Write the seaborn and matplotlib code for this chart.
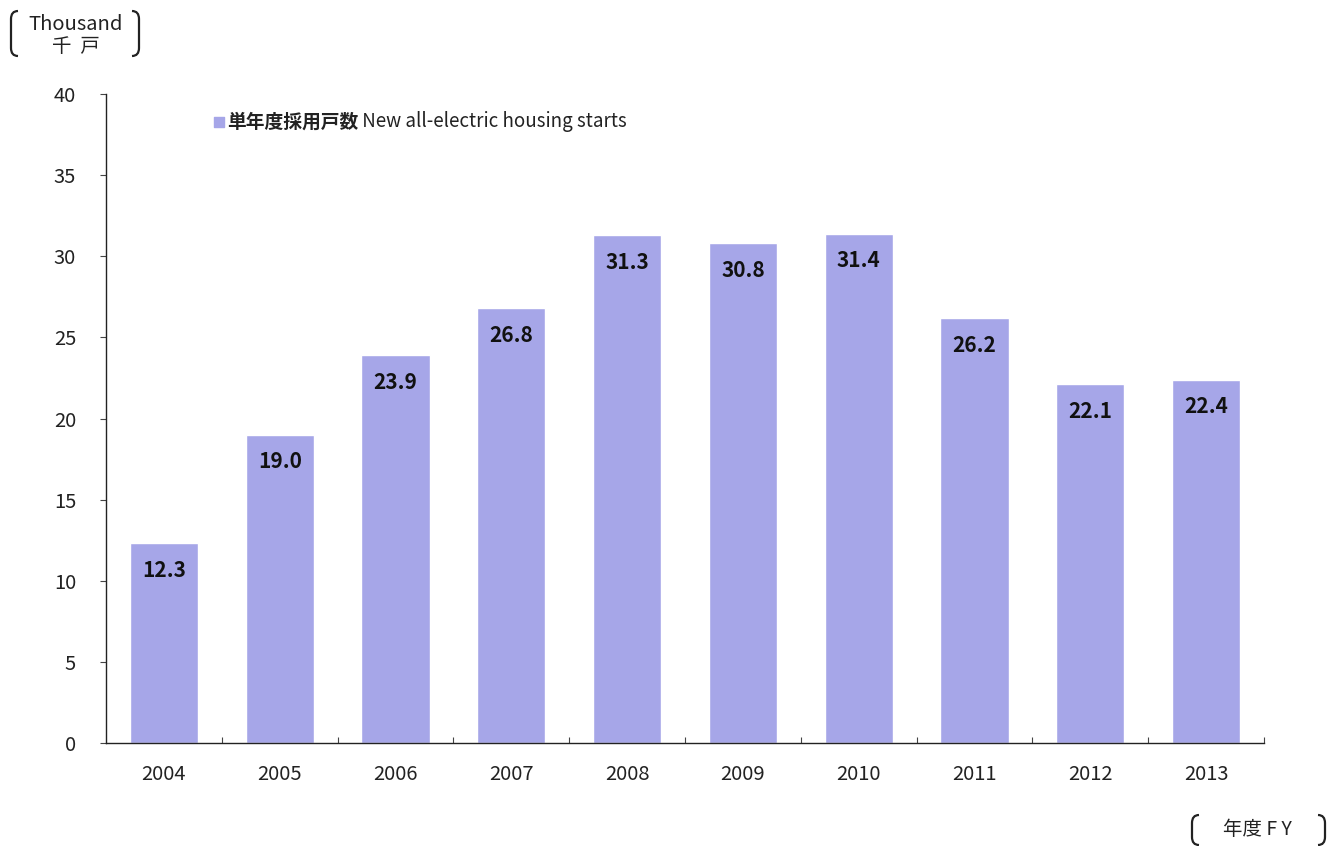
import matplotlib
matplotlib.use("Agg")
import matplotlib.pyplot as plt
from matplotlib.path import Path
from matplotlib.patches import PathPatch
import seaborn as sns
import pandas as pd

# ----------------------------------------
# Data
# ----------------------------------------
years = ["2004", "2005", "2006", "2007", "2008", "2009", "2010", "2011", "2012", "2013"]
starts = [12.3, 19.0, 23.9, 26.8, 31.3, 30.8, 31.4, 26.2, 22.1, 22.4]
y_ticks = [0, 5, 10, 15, 20, 25, 30, 35, 40]

legend_jp = "単年度採用戸数"
legend_en = " New all-electric housing starts"

df = pd.DataFrame({"Year": years, "Starts": starts})

# ----------------------------------------
# Style
# ----------------------------------------
sns.set_style("white")
plt.rcParams["font.family"] = ["Noto Sans CJK JP", "DejaVu Sans"]

bar_color = "#A6A6E8"
W, H = 1340, 846

fig = plt.figure(figsize=(13.4, 8.46), dpi=100)
ax = fig.add_axes([0.0791, 0.1217, 0.8642, 0.7672])

sns.barplot(data=df, x="Year", y="Starts", color=bar_color,
            width=0.59, saturation=1, ax=ax)

# value labels inside the bars
for i, v in enumerate(starts):
    ax.annotate(f"{v:.1f}", xy=(i, v), xytext=(0, -12), textcoords="offset points",
                ha="center", va="top", fontsize=15, fontweight="bold",
                color="#111111")

ax.set_xlim(-0.5, len(years) - 0.5)
ax.set_ylim(0, 40)
ax.set_yticks(y_ticks)
ax.set_xlabel("")
ax.set_ylabel("")

for s in ["top", "right"]:
    ax.spines[s].set_visible(False)
for s in ["left", "bottom"]:
    ax.spines[s].set_color("#222222")
    ax.spines[s].set_linewidth(1.0)

ax.tick_params(axis="y", left=True, direction="out", length=4.5, width=0.8,
               color="#444444", labelsize=14.5, labelcolor="#222222", pad=17)
ax.tick_params(axis="x", which="major", bottom=False, length=0, labelsize=14.5,
               labelcolor="#222222", pad=15)

# minor ticks between categories on x axis, pointing up
ax.set_xticks([i + 0.5 for i in range(len(years))], minor=True)
ax.tick_params(axis="x", which="minor", bottom=True, direction="in", length=4.5,
               width=0.8, color="#444444")

# ----------------------------------------
# Legend (manual)
# ----------------------------------------
ax.scatter([0.0975], [0.957], marker="s", s=50, color=bar_color,
           transform=ax.transAxes, clip_on=False)
t1 = ax.text(0.1045, 0.957, legend_jp, transform=ax.transAxes, fontsize=13.5,
             fontweight="bold", va="center", ha="left", color="#222222")
ax.annotate(legend_en, xy=(1, 0.5), xycoords=t1, va="center", ha="left",
            fontsize=13.5, color="#222222")


# ----------------------------------------
# Unit labels with brackets
# ----------------------------------------
def bracket(x, y_top, y_bot, side):
    # rounded bracket drawn in pixel coords (origin at top-left)
    d = 7 if side == "left" else -7
    xs = x + d
    pts = [(xs, y_top), (x, y_top), (x, y_top + 8),
           (x, y_bot - 8), (x, y_bot), (xs, y_bot)]
    codes = [Path.MOVETO, Path.CURVE3, Path.CURVE3,
             Path.LINETO, Path.CURVE3, Path.CURVE3]
    pts = [(px / W, 1 - py / H) for px, py in pts]
    fig.add_artist(PathPatch(Path(pts, codes), fill=False, lw=1.6,
                             edgecolor="#222222", transform=fig.transFigure))


fig.text(76 / W, 1 - 24 / H, "Thousand", ha="center", va="center", fontsize=14.5,
         color="#222222")
fig.text(76 / W, 1 - 46 / H, "千  戸", ha="center", va="center", fontsize=14,
         color="#222222")
bracket(11, 11, 56, "left")
bracket(139, 11, 56, "right")

fig.text(1257 / W, 1 - 829 / H, "年度 F Y", ha="center", va="center", fontsize=14,
         color="#222222")
bracket(1192, 815, 845, "left")
bracket(1325, 815, 845, "right")

plt.savefig("out.png", dpi=100)
